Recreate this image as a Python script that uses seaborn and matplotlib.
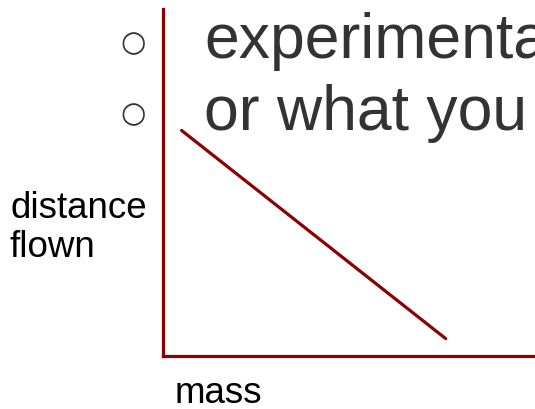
import matplotlib
matplotlib.use("Agg")
import matplotlib.pyplot as plt
import seaborn as sns
import pandas as pd

# Data (schematic): distance flown decreases with mass
mass = [0.5, 7.6]
distance = [6.5, 0.5]

bullet_lines = ["experimenta", "or what you"]
x_label = "mass"
y_label_lines = ["distance", "flown"]

sns.set_style("white")
plt.rcParams['font.family'] = ['Liberation Sans', 'DejaVu Sans']

W, H = 535, 410
fig = plt.figure(figsize=(W / 100, H / 100), dpi=100)

def fx(px):
    return px / W

def fy(py):
    return 1 - py / H

red = "#8B0000"
ax_left, ax_top, ax_bottom = 163, 10, 357
ax = fig.add_axes([fx(ax_left), fy(ax_bottom), fx(W - ax_left), (ax_bottom - ax_top) / H])
df = pd.DataFrame({"mass": mass, "distance": distance})
sns.lineplot(data=df, x="mass", y="distance", ax=ax, color=red, linewidth=2.3)
ax.set_xlim(0, 10)
ax.set_ylim(0, 10)
ax.set_xticks([])
ax.set_yticks([])
ax.set_xlabel("")
ax.set_ylabel("")
ax.patch.set_alpha(0)
for side in ["top", "right"]:
    ax.spines[side].set_visible(False)
for side in ["left", "bottom"]:
    ax.spines[side].set_color(red)
    ax.spines[side].set_linewidth(2.3)

txt = "#333333"
# bullets and slide text
for (cy, base, s) in [(43, 58, bullet_lines[0]), (114, 130, bullet_lines[1])]:
    fig.text(fx(133.5), fy(cy), "○", ha="center", va="center", fontsize=21,
             color=txt, family=['DejaVu Sans'])
    fig.text(fx(204), fy(base), s, ha="left", va="baseline", fontsize=45, color=txt)

# axis labels
fig.text(fx(10), fy(218), y_label_lines[0], ha="left", va="baseline", fontsize=26.5, color="black")
fig.text(fx(10), fy(257), y_label_lines[1], ha="left", va="baseline", fontsize=26.5, color="black")
fig.text(fx(175), fy(403), x_label, ha="left", va="baseline", fontsize=26.5, color="black")

fig.savefig("out.png", dpi=100)
